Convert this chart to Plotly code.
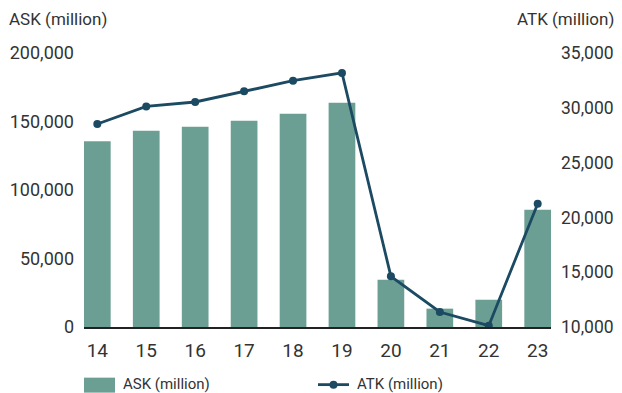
import plotly.graph_objects as go

years = ["14", "15", "16", "17", "18", "19", "20", "21", "22", "23"]
ask_million = [135500, 143300, 146200, 150600, 155700, 163700, 34500, 13400, 19900, 85600]
atk_million = [28520, 30130, 30530, 31500, 32470, 33180, 14620, 11370, 10120, 21250]
ask_ticks = [0, 50000, 100000, 150000, 200000]
atk_ticks = [10000, 15000, 20000, 25000, 30000, 35000]

BAR = "#6C9F94"
LINE = "#1B4A62"
TXT = "#333333"
FONT = "Roboto"

# plot area in pixels
L, R, T, B = 84, 551, 53, 327.3
W, H = R - L, B - T


def px(x):
    return (x - L) / W


def py(y):
    return (B - y) / H


fig = go.Figure()
fig.add_trace(go.Bar(x=years, y=ask_million, name="ASK (million)",
                     marker=dict(color=BAR, line=dict(width=0)), width=0.546,
                     yaxis="y"))
fig.add_trace(go.Scatter(x=years, y=atk_million, name="ATK (million)",
                         mode="lines+markers", line=dict(color=LINE, width=2.8),
                         marker=dict(color=LINE, size=8), yaxis="y2"))

shapes = [
    dict(type="rect", xref="paper", yref="paper", x0=px(84), x1=px(115),
         y0=py(393), y1=py(378), fillcolor=BAR, line=dict(width=0), layer="above"),
    dict(type="line", xref="paper", yref="paper", x0=px(318), x1=px(349),
         y0=py(385), y1=py(385), line=dict(color=LINE, width=2.8)),
    dict(type="circle", xref="paper", yref="paper", x0=px(329.5), x1=px(337.5),
         y0=py(389), y1=py(381), fillcolor=LINE, line=dict(width=0)),
]

annotations = [
    dict(text="ASK (million)", xref="paper", yref="paper", x=px(7),
         xanchor="left", y=py(19), yanchor="middle", showarrow=False,
         font=dict(size=17, color=TXT)),
    dict(text="ATK (million)", xref="paper", yref="paper", x=px(616),
         xanchor="right", y=py(19), yanchor="middle", showarrow=False,
         font=dict(size=17, color=TXT)),
    dict(text="ASK (million)", xref="paper", yref="paper", x=px(121),
         xanchor="left", y=py(384.5), yanchor="middle", showarrow=False,
         font=dict(size=15, color=TXT)),
    dict(text="ATK (million)", xref="paper", yref="paper", x=px(355),
         xanchor="left", y=py(384.5), yanchor="middle", showarrow=False,
         font=dict(size=15, color=TXT)),
]

fig.update_layout(
    width=622, height=393,
    margin=dict(l=L, r=622 - R, t=T, b=393 - B, autoexpand=False),
    paper_bgcolor="white", plot_bgcolor="white",
    font=dict(family=FONT, size=18, color=TXT),
    showlegend=False,
    xaxis=dict(type="category", range=[-0.272, 9.272], showgrid=False,
               showline=True, linecolor="#222222", linewidth=1.5,
               ticks="", tickfont=dict(size=19, color=TXT), ticklabelstandoff=5),
    yaxis=dict(range=[0, 200000], tickvals=ask_ticks, tickformat=",",
               showgrid=False, zeroline=False, showline=False, ticks="",
               tickfont=dict(size=18, color=TXT), ticklabelstandoff=9),
    yaxis2=dict(range=[10000, 35000], tickvals=atk_ticks, tickformat=",",
                overlaying="y", side="right", showgrid=False, zeroline=False,
                showline=False, ticks="", tickfont=dict(size=17.5, color=TXT),
                ticklabelstandoff=9),
    shapes=shapes,
    annotations=annotations,
)

fig.write_html("out.html", config={"displayModeBar": False},
               post_script="document.body.style.margin='0';document.body.style.padding='0';document.body.style.overflow='hidden';")
